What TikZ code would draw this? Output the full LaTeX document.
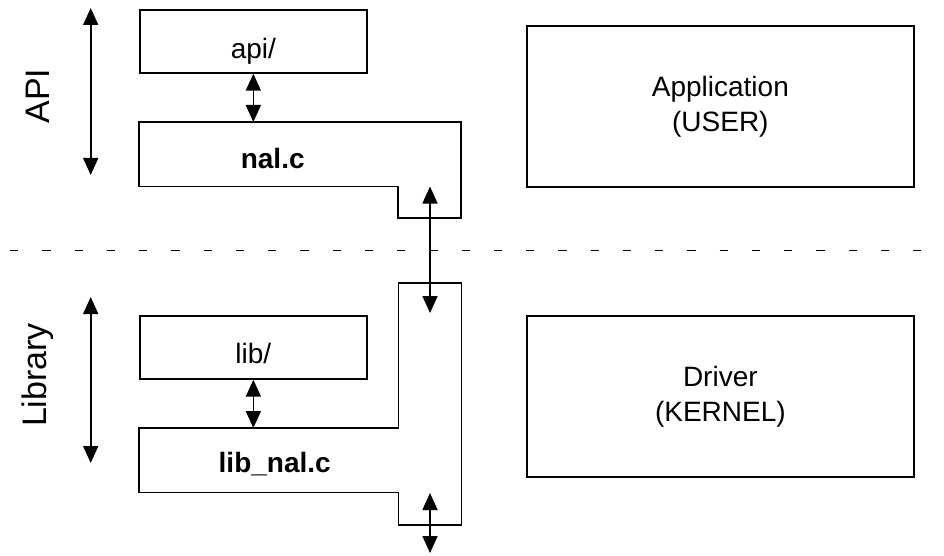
\documentclass[tikz,border=0pt]{standalone}
\usepackage{fontspec}
\setmainfont{Liberation Sans}
\usetikzlibrary{arrows.meta}
\usetikzlibrary{calc}
\newcommand{\boxfont}{\fontsize{28}{35}\selectfont}
\newcommand{\layerfont}{\fontsize{34}{40}\selectfont}
\tikzstyle{dirbox}=[draw, line width=1.7pt, inner sep=0pt, minimum width=227pt, minimum height=63pt, text height=48.5pt, text depth=14.5pt, font=\boxfont]
\tikzstyle{partbox}=[inner sep=0pt, minimum width=259pt, minimum height=64pt, font=\boxfont]
\tikzstyle{sidebox}=[draw, line width=1.7pt, inner sep=0pt, minimum width=387pt, minimum height=161pt, align=center, font=\boxfont]
\tikzstyle{shapeline}=[line width=1.7pt, line join=miter]
\tikzstyle{link}=[line width=1.7pt, {Triangle[width=15pt,length=17pt]}-{Triangle[width=15pt,length=17pt]}]
\tikzstyle{separator}=[line width=1.7pt, dash pattern=on 8.3pt off 23.95pt]
\tikzstyle{layer}=[rotate=90, inner sep=0pt, font=\layerfont]

\begin{document}
\begin{tikzpicture}[x=1pt,y=-1pt]
\useasboundingbox (0,0) rectangle (944,556);
% upper half: API
\node[dirbox, anchor=north west] (api) at (139,9) {api/};
\node[partbox, anchor=north west, text height=46pt, text depth=18pt] (nal) at (139,122) {\hspace{8pt}\textbf{nal.c}};
\draw[shapeline] (nal.north west) -- ++(322,0) -- ++(0,96) -- ++(-63,0) |- (nal.south west) -- cycle;
\draw[link] (api.south) -- (api.south |- nal.north);
% lower half: Library
\node[dirbox, anchor=north west, text height=48pt, text depth=15pt] (lib) at (139,315) {lib/};
\node[partbox, anchor=north west, text height=44pt, text depth=20pt] (libnal) at (139,428) {\hspace{12pt}\textbf{lib\_nal.c}};
\draw[shapeline] (libnal.north west) -- (libnal.north east) -- ++(0,-145) -- ++(63,0) -- ++(0,242) -- ++(-63,0) |- (libnal.south west) -- cycle;
\draw[link] (lib.south) -- (lib.south |- libnal.north);
% calls between the layers
\coordinate (busTop) at (430,186.5);
\coordinate (busBot) at (430,313);
\draw[link] (busTop) -- (busBot);
\coordinate (outTop) at (430,493);
\coordinate (outBot) at (430,553);
\draw[link] (outTop) -- (outBot);
% right side
\node[sidebox, anchor=north west] (app) at (526,25) {Application\\(USER)};
\node[sidebox, anchor=north west] (drv) at (526,315) {Driver\\(KERNEL)};
% layer marks
\coordinate (apiTop) at (90.7,8);
\coordinate (apiBot) at (90.7,175);
\draw[link] (apiTop) -- (apiBot);
\node[layer] (apilabel) at (38,96) {API};
\coordinate (libTop) at (90.7,297);
\coordinate (libBot) at (90.7,463);
\draw[link] (libTop) -- (libBot);
\node[layer] (liblabel) at (38,375) {Library};
\coordinate (sepL) at (10,250.5);
\coordinate (sepR) at (944,250.5);
\draw[separator] (sepL) -- (sepR);
\end{tikzpicture}
\end{document}
